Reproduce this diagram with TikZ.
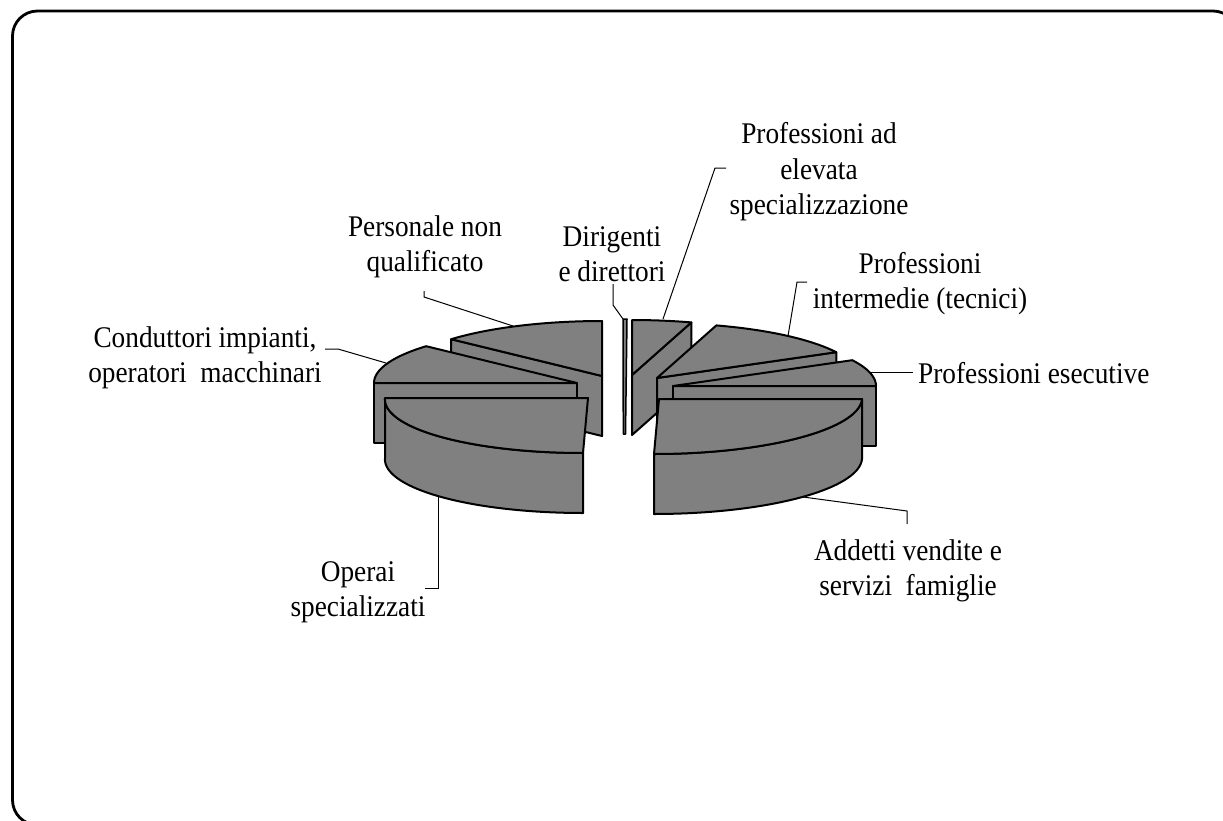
\documentclass[tikz,border=0pt]{standalone}
\usepackage{fontspec}
\newfontfamily\lblfont{Liberation Serif}[FakeStretch=0.91]
\definecolor{pie}{RGB}{128,128,128}
% top face of a slice: centre (#1,#2), angles #3..#4 (front half slightly skewed)
\newcommand\pietop[4]{\draw[slice] (#1,#2) -- plot[domain=#3:#4,samples=40] ({#1+203*cos(\x)-5*max(0,-sin(\x))},{#2-55*sin(\x)}) -- cycle;}
% radial cut face of a slice at angle #3
\newcommand\pieradial[3]{\draw[slice] (#1,#2) -- ({#1+203*cos(#3)},{#2-55*sin(#3)}) -- ++(0,60) -- (#1,#2+60) -- cycle;}
% outer (curved) face, angles #3..#4
\newcommand\pieouter[4]{\draw[slice] plot[domain=#3:#4,samples=40] ({#1+203*cos(\x)-5*max(0,-sin(\x))},{#2-55*sin(\x)}) -- plot[domain=#4:#3,samples=40] ({#1+203*cos(\x)-5*max(0,-sin(\x))},{#2+60-55*sin(\x)}) -- cycle;}
\begin{document}
\begin{tikzpicture}[x=1pt,y=-1pt,
  slice/.style={fill=pie,draw=black,line width=2pt,line join=round},
  leader/.style={draw=black,line width=1pt},
  lbl/.style={font=\lblfont\fontsize{30}{35.5}\selectfont,align=center,inner sep=0pt,text=black}]
\useasboundingbox (0,0) rectangle (1223,820);
\draw[line width=2.8pt,rounded corners=25pt] (12.5,11) rectangle (1238,825);

% Personale non qualificato
\pieradial{602}{376}{138}
\pietop{602}{376}{90}{138}
% Dirigenti e direttori (sliver)
\draw[slice,line width=1.5pt] (623,319) -- (627,319) -- (625.5,434) -- (623.3,434) -- cycle;
% Professioni ad elevata specializzazione
\pieradial{632}{375}{73}
\pietop{632}{375}{73}{90}
% Professioni intermedie
\pieradial{657}{378}{28}
\pietop{657}{378}{28}{73}
% Professioni esecutive
\pieradial{673}{386}{0}
\pietop{673}{386}{0}{28}
% Conduttori impianti
\pieradial{577}{383}{180}
\pietop{577}{383}{138}{180}
% Operai specializzati
\pieouter{588}{398}{180}{270}
\pietop{588}{398}{180}{270}
% Addetti vendite
\pieouter{659}{399}{270}{360}
\pietop{659}{399}{270}{360}

% labels
\node[lbl] (lPers) at (425,247) {Personale non\\qualificato};
\node[lbl] (lDir) at (612,254) {Dirigenti\\e direttori};
\node[lbl] (lElev) at (819,172) {Professioni ad\\elevata\\specializzazione};
\node[lbl] (lInt) at (920,283.5) {Professioni\\intermedie (tecnici)};
\node[lbl,anchor=base west] (lEse) at (918,383) {Professioni esecutive};
\node[lbl] (lCond) at (205,358) {Conduttori impianti,\\operatori~ macchinari};
\node[lbl] (lAdd) at (908,571) {Addetti vendite e\\servizi~ famiglie};
\node[lbl] (lOp) at (358,592) {Operai\\specializzati};

% leader lines
\coordinate (pers1) at (424,291); \coordinate (pers2) at (424,297); \coordinate (pers3) at (513,326);
\draw[leader] (pers1) -- (pers2) -- (pers3);
\coordinate (cond1) at (325,349); \coordinate (cond2) at (338,349); \coordinate (cond3) at (386,363);
\draw[leader] (cond1) -- (cond2) -- (cond3);
\coordinate (dir1) at (613,284); \coordinate (dir2) at (613,305); \coordinate (dir3) at (623,319);
\draw[leader] (dir1) -- (dir2) -- (dir3);
\coordinate (elev1) at (726,168); \coordinate (elev2) at (715,168); \coordinate (elev3) at (663,319);
\draw[leader] (elev1) -- (elev2) -- (elev3);
\coordinate (int1) at (807,282); \coordinate (int2) at (797,282); \coordinate (int3) at (788,336);
\draw[leader] (int1) -- (int2) -- (int3);
\coordinate (ese1) at (871,372); \coordinate (ese2) at (913,372);
\draw[leader] (ese1) -- (ese2);
\coordinate (add1) at (803,497); \coordinate (add2) at (907,511); \coordinate (add3) at (907,524);
\draw[leader] (add1) -- (add2) -- (add3);
\coordinate (op1) at (438,496); \coordinate (op2) at (438,588); \coordinate (op3) at (425,588);
\draw[leader] (op1) -- (op2) -- (op3);
\end{tikzpicture}
\end{document}
